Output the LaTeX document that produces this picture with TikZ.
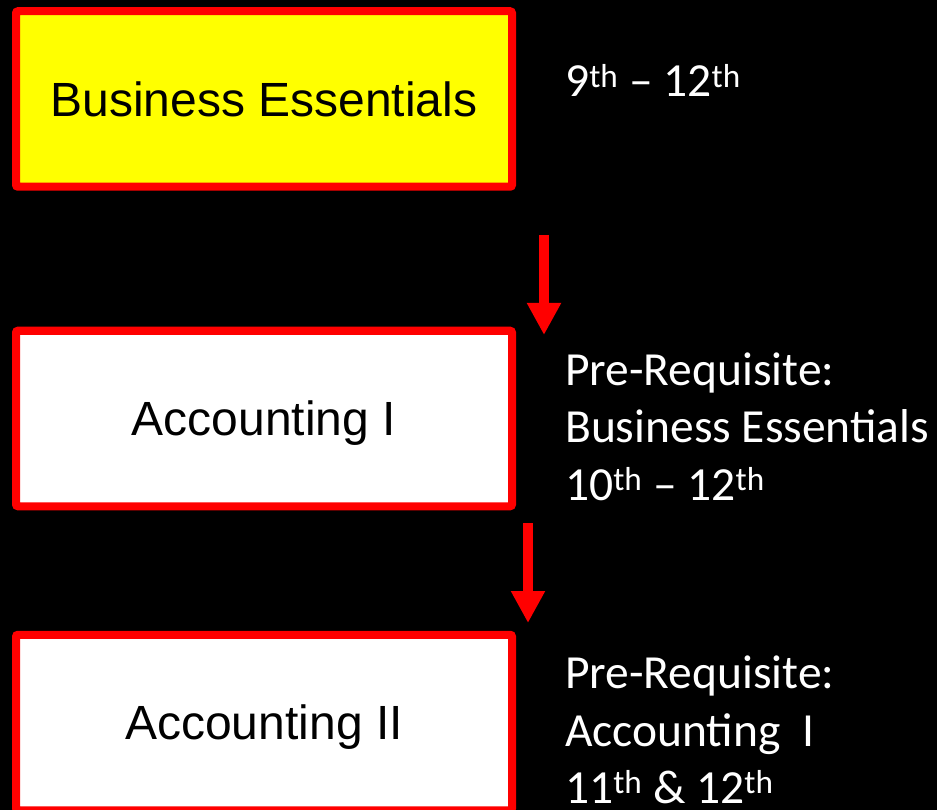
\documentclass[tikz,border=0pt]{standalone}
\usepackage{fontspec}
\usetikzlibrary{arrows.meta}
\newfontfamily\boxfont{Liberation Sans}
\newfontfamily\sidefont{Carlito}
\definecolor{boxyellow}{RGB}{255,255,0}
\definecolor{pptred}{RGB}{255,0,0}
\begin{document}
\begin{tikzpicture}[x=1pt,y=-1pt,
  coursebox/.style={draw=pptred, line width=8pt, rounded corners=2pt, inner sep=0pt,
    minimum width=496pt, minimum height=175.5pt, text=black,
    font=\boxfont\fontsize{48}{56}\selectfont, text height=34.4pt, text depth=0pt},
  sidetext/.style={anchor=base west, inner sep=0pt, text=white,
    font=\sidefont\fontsize{47.5}{57}\selectfont},
  flow/.style={draw=pptred, line width=10.5pt, -{Triangle[width=32pt,length=32pt]}, pptred}]
\useasboundingbox (0,0) rectangle (937,810);
\clip (0,0) rectangle (937,810);
\fill[black] (0,0) rectangle (937,810);

\node[coursebox, fill=boxyellow] (be) at (264,99) {Business Essentials};
\node[coursebox, fill=white] (a1) at (264,418.5) {Accounting I};
\node[coursebox, fill=white] (a2) at (264,722.5) {Accounting II};

\node[sidetext] (g1) at (565,97) {9\textsuperscript{th} – 12\textsuperscript{th}};

\node[sidetext] (p1) at (565,385) {Pre-Requisite:};
\node[sidetext] (p2) at (565,442) {Business Essentials};
\node[sidetext] (p3) at (565,500) {10\textsuperscript{th} – 12\textsuperscript{th}};

\node[sidetext] (q1) at (565,688) {Pre-Requisite:};
\node[sidetext] (q2) at (565,746.5) {Accounting\ \ I};
\node[sidetext] (q3) at (565,803) {11\textsuperscript{th} \& 12\textsuperscript{th}};

\coordinate (s1) at (544,235);
\coordinate (e1) at (544,335);
\coordinate (s2) at (528,523);
\coordinate (e2) at (528,623);
\draw[flow] (s1) -- (e1);
\draw[flow] (s2) -- (e2);
\end{tikzpicture}
\end{document}
